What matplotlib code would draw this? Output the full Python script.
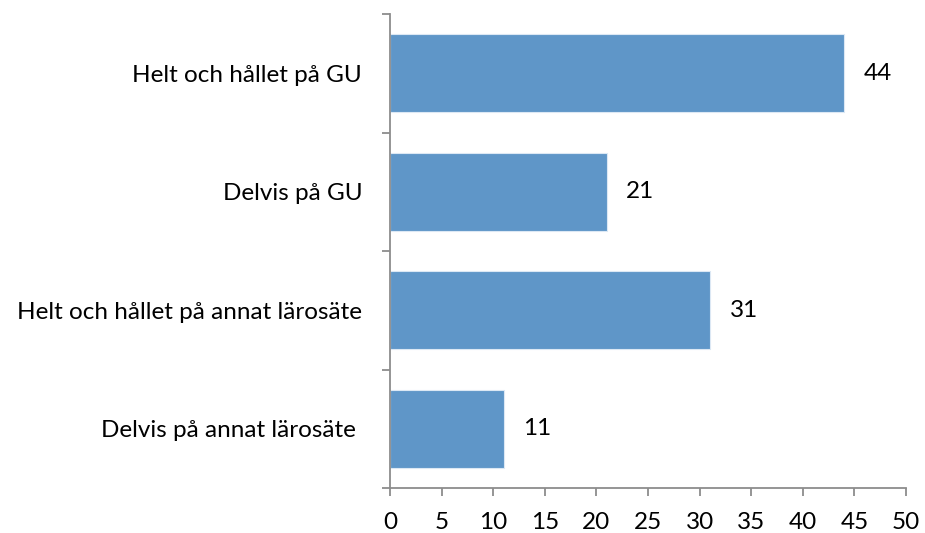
import matplotlib
matplotlib.use("Agg")
import matplotlib.pyplot as plt
import numpy as np

categories = ["Helt och hållet på GU", "Delvis på GU", "Helt och hållet på annat lärosäte", "Delvis på annat lärosäte "]
values = [44, 21, 31, 11]
xticks = [0, 5, 10, 15, 20, 25, 30, 35, 40, 45, 50]

plt.rcParams['font.family'] = ['Lato', 'DejaVu Sans']
FS = 17.5

fig = plt.figure(figsize=(9.25, 5.33), dpi=100)
ax = fig.add_axes([390/925, 1-488/533, (906-390)/925, (488-14)/533])

y = np.arange(len(categories))
ax.barh(y, values, height=0.66, color="#5F96C8", edgecolor="#DCE8F4", linewidth=0.8, zorder=2)
for yi, v in zip(y, values):
    ax.text(v + 1.9, yi, str(v), va="center", ha="left", fontsize=FS, color="#000000")

ax.set_ylim(len(categories) - 0.5, -0.5)
ax.set_xlim(0, 50)
ax.set_xticks(xticks)
ax.set_xticklabels([str(t) for t in xticks], fontsize=FS)
ax.set_yticks(y)
ax.set_yticklabels(categories, fontsize=FS)
ax.set_yticks(np.arange(-0.5, len(categories), 1.0), minor=True)
ax.tick_params(axis="y", which="major", length=0, pad=20)
ax.tick_params(axis="y", which="minor", length=6, width=1.3, color="#8C8C8C", direction="out")
ax.tick_params(axis="x", which="major", length=6, width=1.3, color="#8C8C8C", direction="out", pad=11)
for s in ["top", "right"]:
    ax.spines[s].set_visible(False)
for s in ["left", "bottom"]:
    ax.spines[s].set_color("#8C8C8C")
    ax.spines[s].set_linewidth(1.3)

fig.savefig("out.png", dpi=100)
